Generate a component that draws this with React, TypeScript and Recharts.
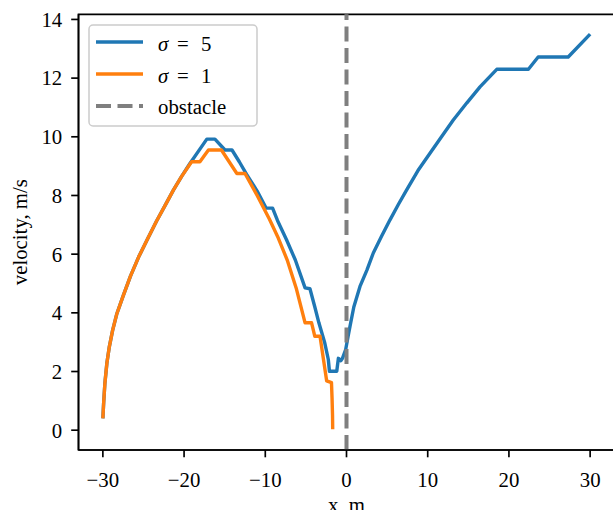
import React from 'react';
import { LineChart, Line, XAxis, YAxis, ReferenceLine, ReferenceArea, Legend } from 'recharts';

// ---- data ----
const sigma5X = [-30.0, -29.9, -29.75, -29.5, -29.2, -28.8, -28.3, -27.5, -26.6, -25.6, -24.5, -23.4, -22.3, -21.3, -20.3, -19.3, -17.2, -16.2, -14.96, -14.1, -13.2, -12.3, -11.0, -9.9, -9.1, -8.5, -7.4, -6.3, -5.1, -4.5, -3.9, -3.4, -2.7, -2.24, -2.1, -1.2, -1.0, -0.7, -0.5, -0.1, 0.2, 0.43, 0.9, 1.66, 2.5, 3.3, 4.3, 5.36, 6.4, 7.41, 8.8, 10.28, 11.7, 13.15, 14.8, 16.44, 18.5, 22.4, 23.6, 27.3, 30.0];
const sigma5Y = [0.40, 0.95, 1.6, 2.3, 2.85, 3.4, 3.95, 4.58, 5.25, 5.9, 6.52, 7.12, 7.68, 8.19, 8.65, 9.08, 9.92, 9.92, 9.55, 9.55, 9.15, 8.72, 8.15, 7.57, 7.57, 7.15, 6.5, 5.8, 4.85, 4.82, 4.2, 3.66, 3.0, 2.41, 2.01, 2.01, 2.45, 2.37, 2.45, 2.75, 3.2, 3.54, 4.2, 4.9, 5.45, 6.04, 6.6, 7.17, 7.7, 8.19, 8.85, 9.44, 10.0, 10.57, 11.15, 11.7, 12.3, 12.3, 12.72, 12.72, 13.5];

const sigma1X = [-30.0, -29.9, -29.75, -29.5, -29.2, -28.8, -28.3, -27.5, -26.6, -25.6, -24.5, -23.4, -22.3, -21.3, -20.3, -19.07, -18.05, -17.0, -15.4, -13.5, -12.5, -11.0, -9.5, -8.4, -7.3, -6.2, -5.1, -4.3, -3.9, -3.26, -2.44, -1.85, -1.78, -1.72, -1.7];
const sigma1Y = [0.40, 0.95, 1.6, 2.3, 2.85, 3.4, 3.95, 4.58, 5.25, 5.9, 6.52, 7.12, 7.68, 8.19, 8.65, 9.15, 9.15, 9.55, 9.55, 8.75, 8.75, 8.0, 7.2, 6.55, 5.8, 4.85, 3.66, 3.66, 3.2, 3.2, 1.68, 1.62, 1.1, 0.5, 0.03];

const obstacleX = 0;
const xTicks = [-30, -20, -10, 0, 10, 20, 30];
const yTicks = [0, 2, 4, 6, 8, 10, 12, 14];
const xDomain = [-33, 33];
const yDomain = [-0.675, 14.175];
const xLabel = 'x, m';
const yLabel = 'velocity, m/s';
const legendNames = ['5', '1', 'obstacle'];

const BLUE = '#1f77b4';
const ORANGE = '#ff7f0e';
const GRAY = '#7f7f7f';
const FONT = "'Liberation Serif', 'DejaVu Serif', serif";
const FS = 20.8;
const LW = 3.4;

const sigma5 = sigma5X.map((x, i) => ({ x, v: sigma5Y[i] }));
const sigma1 = sigma1X.map((x, i) => ({ x, v: sigma1Y[i] }));

const fmt = (v: number) => (v < 0 ? '\u2212' + Math.abs(v) : String(v));

const LegendBox = () => (
  <svg width={172} height={104} style={{ display: 'block', overflow: 'visible' }}>
    <rect x={1} y={1} width={168} height={101} rx={4} ry={4} fill="#fff" fillOpacity={0.8} stroke="#cccccc" strokeWidth={1.5} />
    <line x1={8} x2={55} y1={18} y2={18} stroke={BLUE} strokeWidth={LW} />
    <line x1={8} x2={55} y1={50} y2={50} stroke={ORANGE} strokeWidth={LW} />
    <line x1={8} x2={55} y1={82} y2={82} stroke={GRAY} strokeWidth={4} strokeDasharray="15 6.5" />
    <text y={26.5} fontFamily={FONT} fontSize={FS} fill="#000">
      <tspan x={70} fontStyle="italic">σ</tspan>
      <tspan x={89}>=</tspan>
      <tspan x={113}>{legendNames[0]}</tspan>
    </text>
    <text y={58.5} fontFamily={FONT} fontSize={FS} fill="#000">
      <tspan x={70} fontStyle="italic">σ</tspan>
      <tspan x={89}>=</tspan>
      <tspan x={113}>{legendNames[1]}</tspan>
    </text>
    <text x={70} y={89.5} fontFamily={FONT} fontSize={FS} fill="#000">{legendNames[2]}</text>
  </svg>
);

const YLab = (props: any) => {
  const vb = props.viewBox || { x: 0, y: 0, width: 0, height: 0 };
  const cx = vb.x + 27;
  const cy = vb.y + vb.height / 2;
  return (
    <text transform={`translate(${cx}, ${cy}) rotate(-90)`} textAnchor="middle" fontFamily={FONT} fontSize={FS} fill="#000">
      {yLabel}
    </text>
  );
};

const XLab = (props: any) => {
  const vb = props.viewBox || { x: 0, y: 0, width: 0, height: 0 };
  return (
    <text x={vb.x + vb.width / 2} y={vb.y + 62} textAnchor="middle" fontFamily={FONT} fontSize={FS} fill="#000">
      {xLabel}
    </text>
  );
};

export default function App() {
  const tickStyle = { fill: '#000', fontSize: FS, fontFamily: FONT };
  return (
    <div style={{ position: 'fixed', left: 0, top: 0, width: 613, height: 510, overflow: 'hidden', background: '#fff' }}>
      <LineChart width={640} height={510} margin={{ top: 14.3, right: 25.5, bottom: 0, left: 0 }}>
        <ReferenceArea x1={xDomain[0]} x2={xDomain[1]} y1={yDomain[0]} y2={yDomain[1]} fill="none" stroke="#000" strokeWidth={1.67} ifOverflow="visible" />
        <XAxis
          type="number"
          dataKey="x"
          domain={xDomain}
          ticks={xTicks}
          allowDataOverflow
          height={60}
          tickFormatter={fmt}
          tick={tickStyle}
          tickSize={7.3}
          tickMargin={15}
          axisLine={{ stroke: '#000', strokeWidth: 1.67 }}
          tickLine={{ stroke: '#000', strokeWidth: 1.67 }}
          interval={0}
          label={<XLab />}
        />
        <YAxis
          type="number"
          domain={yDomain}
          ticks={yTicks}
          allowDataOverflow
          width={78.5}
          tickFormatter={fmt}
          tick={tickStyle}
          tickSize={7.3}
          tickMargin={9}
          axisLine={{ stroke: '#000', strokeWidth: 1.67 }}
          tickLine={{ stroke: '#000', strokeWidth: 1.67 }}
          interval={0}
          label={<YLab />}
        />
        <Line data={sigma5} dataKey="v" type="linear" stroke={BLUE} strokeWidth={LW} dot={false} activeDot={false} isAnimationActive={false} strokeLinejoin="round" />
        <Line data={sigma1} dataKey="v" type="linear" stroke={ORANGE} strokeWidth={LW} dot={false} activeDot={false} isAnimationActive={false} strokeLinejoin="round" />
        <ReferenceLine x={obstacleX} stroke={GRAY} strokeWidth={4} strokeDasharray="15 6.5" />
        <Legend
          layout="vertical"
          align="center"
          verticalAlign="middle"
          content={<LegendBox />}
          wrapperStyle={{ position: 'absolute', left: 88, top: 24, width: 172, height: 104 }}
        />
      </LineChart>
    </div>
  );
}
